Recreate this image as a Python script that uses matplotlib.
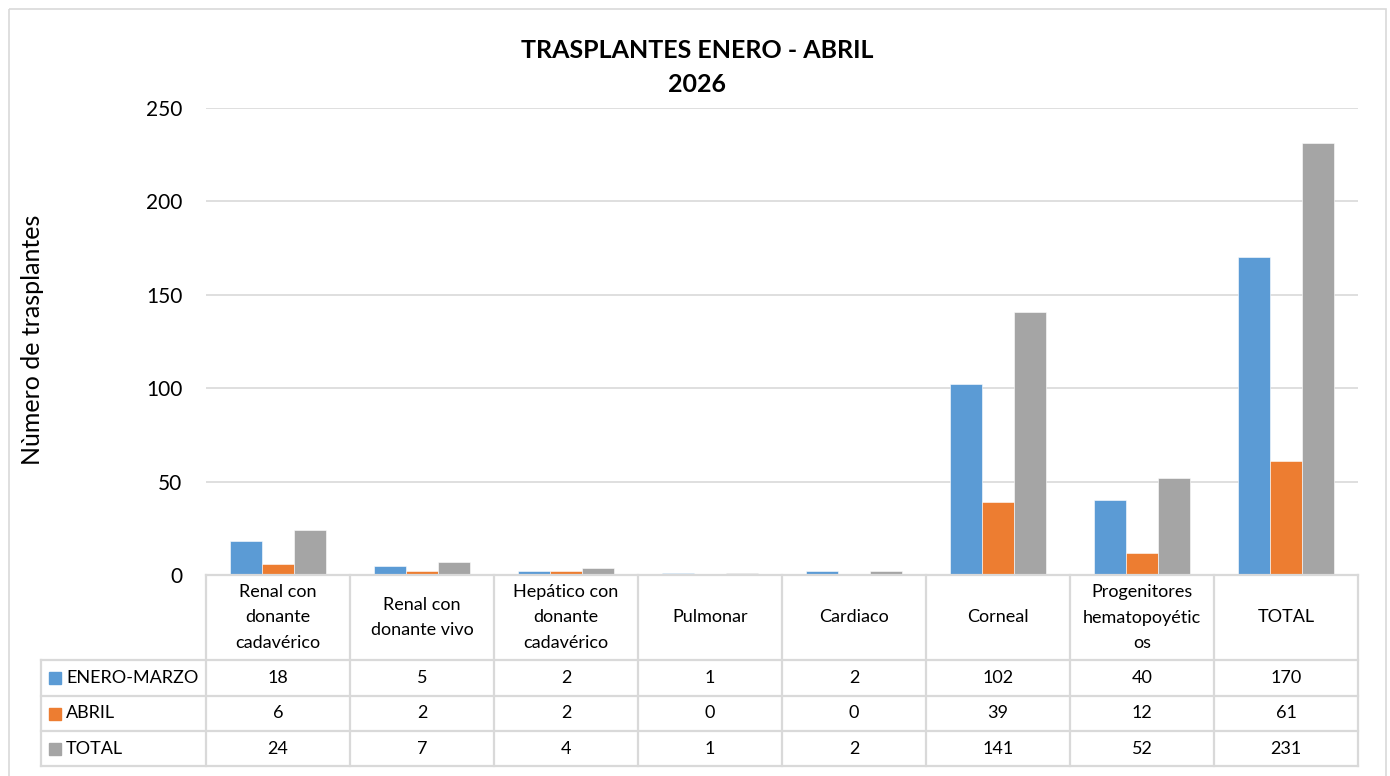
import matplotlib.pyplot as plt
import matplotlib.transforms as mtransforms
from matplotlib.lines import Line2D
from matplotlib.patches import Rectangle
import numpy as np

plt.rcParams['font.family'] = ['Lato', 'DejaVu Sans']

categorias = [
    'Renal con\ndonante\ncadavérico',
    'Renal con\ndonante vivo',
    'Hepático con\ndonante\ncadavérico',
    'Pulmonar',
    'Cardiaco',
    'Corneal',
    'Progenitores\nhematopoyétic\nos',
    'TOTAL',
]
series = ['ENERO-MARZO', 'ABRIL', 'TOTAL']
enero_marzo = [18, 5, 2, 1, 2, 102, 40, 170]
abril = [6, 2, 2, 0, 0, 39, 12, 61]
total = [24, 7, 4, 1, 2, 141, 52, 231]
colores = ['#5B9BD5', '#ED7D31', '#A5A5A5']

W, H = 1390, 776
gris = '#D9D9D9'

fig = plt.figure(figsize=(W / 100, H / 100), dpi=100)
# pixel coords with origin at top-left
pix = mtransforms.Affine2D().scale(1, -1).translate(0, H)

# marco del grafico
fig.add_artist(Rectangle((9, 9), 1377, 770, transform=pix, fill=False,
                         edgecolor=gris, lw=1.2))

x0, x1, ytop, ybot = 206, 1358, 108, 575
ax = fig.add_axes([x0 / W, 1 - ybot / H, (x1 - x0) / W, (ybot - ytop) / H])

x = np.arange(len(categorias))
ancho = 0.222
for i, (vals, col) in enumerate(zip([enero_marzo, abril, total], colores)):
    ax.bar(x + (i - 1) * ancho, vals, width=ancho, color=col,
           edgecolor='white', linewidth=0.4, zorder=3)

ax.set_xlim(-0.5, len(categorias) - 0.5)
ax.set_ylim(0, 250)
ax.set_yticks(range(0, 251, 50))
ax.set_xticks([])
ax.tick_params(axis='y', length=0, pad=17, labelsize=15)
ax.grid(axis='y', color=gris, lw=1.2, zorder=0)
for s in ax.spines.values():
    s.set_visible(False)

fig.text(33, 340, 'Nùmero de trasplantes', transform=pix, rotation=90,
         ha='center', va='center', fontsize=18)
fig.text(697, 50, 'TRASPLANTES ENERO - ABRIL', transform=pix, ha='center',
         va='center', fontsize=18, fontweight='bold')
fig.text(697, 84, '2026', transform=pix, ha='center', va='center',
         fontsize=18, fontweight='bold')

# tabla de datos
filas = [575, 660, 696, 731, 766]
tx = mtransforms.blended_transform_factory(ax.transData, pix)
lw = 1.6
# horizontales
fig.add_artist(Line2D([x0, x1], [filas[0], filas[0]], transform=pix, color=gris, lw=lw))
for yy in filas[1:]:
    fig.add_artist(Line2D([41, x1], [yy, yy], transform=pix, color=gris, lw=lw))
# verticales
for k in range(len(categorias) + 1):
    xx = x0 + k * (x1 - x0) / len(categorias)
    fig.add_artist(Line2D([xx, xx], [filas[0], filas[-1]], transform=pix, color=gris, lw=lw))
fig.add_artist(Line2D([41, 41], [filas[1], filas[-1]], transform=pix, color=gris, lw=lw))

for i, cat in enumerate(categorias):
    fig.text(i, (filas[0] + filas[1]) / 2, cat, transform=tx, ha='center',
             va='center', fontsize=13, linespacing=1.75)

for r, (nombre, vals, col) in enumerate(zip(series, [enero_marzo, abril, total], colores)):
    yc = (filas[r + 1] + filas[r + 2]) / 2
    fig.add_artist(Rectangle((49, yc - 6), 12, 12, transform=pix, color=col))
    fig.text(66, yc, nombre, transform=pix, ha='left', va='center', fontsize=13)
    for i, v in enumerate(vals):
        fig.text(i, yc, str(v), transform=tx, ha='center', va='center', fontsize=13)

fig.savefig('out.png', dpi=100)
